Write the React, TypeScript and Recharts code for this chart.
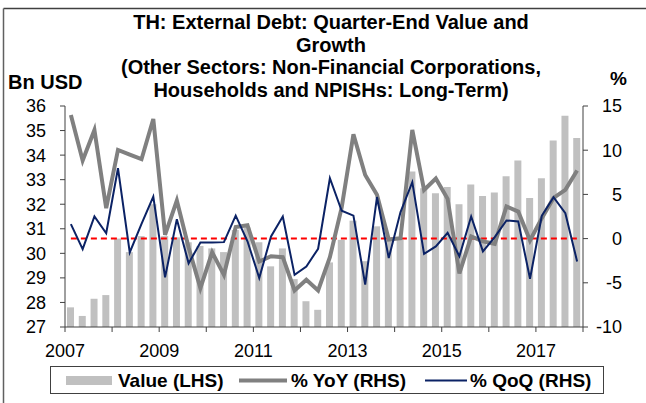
import React from 'react';
import { ComposedChart, Bar, Line, XAxis, YAxis, ReferenceLine } from 'recharts';

// Quarterly, 2007Q1 .. 2017Q4
const quarterIndex = [
  0, 1, 2, 3, 4, 5, 6, 7, 8, 9, 10, 11, 12, 13, 14, 15, 16, 17, 18, 19, 20, 21,
  22, 23, 24, 25, 26, 27, 28, 29, 30, 31, 32, 33, 34, 35, 36, 37, 38, 39, 40, 41, 42, 43,
];

// Value (LHS), Bn USD
const valueLHS = [
  27.8, 27.45, 28.15, 28.3, 30.6, 30.05, 30.7, 32.0, 30.7, 30.65, 30.45, 30.3,
  30.2, 30.05, 30.95, 31.05, 30.45, 29.47, 30.2, 28.95, 28.05, 27.7, 29.63, 30.55,
  31.33, 29.68, 31.1, 30.55, 30.55, 33.33, 32.65, 32.45, 32.7, 32.0, 32.8, 32.33,
  32.48, 33.14, 33.78, 32.25, 33.06, 34.6, 35.6, 34.7,
];

// % YoY (RHS)
const yoyRHS = [
  13.98, 8.83, 12.29, 3.44, 10.03, 9.5, 8.98, 13.53, 0.43, 4.3, -1.0, -5.6,
  -1.55, -4.1, 1.3, 1.5, -2.6, -2.0, -2.1, -5.86, -4.65, -5.86, -2.1, 3.5,
  11.8, 7.2, 4.95, -0.1, 0.05, 12.3, 5.5, 6.8, 4.5, -3.95, 0.24, -0.32,
  -0.59, 3.63, 3.06, -0.21, 2.31, 4.6, 5.51, 7.7,
];

// % QoQ (RHS)
const qoqRHS = [
  1.63, -1.19, 2.5, 0.6, 7.96, -1.57, 1.67, 4.76, -4.39, 2.2, -2.8, -0.44,
  -0.44, -0.4, 2.6, -0.3, -4.45, 0.24, 2.5, -4.1, -3.15, -1.15, 6.83, 3.15,
  2.6, -5.2, 4.7, -2.2, 3.0, 6.38, -1.72, -0.89, 0.65, -2.0, 2.5, -1.45,
  0.17, 2.05, 1.93, -4.54, 2.58, 4.68, 2.88, -2.58,
];

const leftTicks = [27, 28, 29, 30, 31, 32, 33, 34, 35, 36];
const rightTicks = [-10, -5, 0, 5, 10, 15];
const yearTicks = [0, 4, 8, 12, 16, 20, 24, 28, 32, 36, 40, 44];
const yearLabels = ['2007', '', '2009', '', '2011', '', '2013', '', '2015', '', '2017', ''];

const titleLines = [
  'TH: External Debt: Quarter-End Value and',
  'Growth',
  '(Other Sectors: Non-Financial Corporations,',
  'Households and NPISHs: Long-Term)',
];

const data = quarterIndex.map((q, i) => ({
  x: q + 0.5,
  value: valueLHS[i],
  yoy: yoyRHS[i],
  qoq: qoqRHS[i],
}));

const FONT = '"Liberation Sans", Arial, sans-serif';
const W = 646;
const H = 403;
const TICK_FS = 18;

const RightTick = (props: any) => {
  const { x, y, payload } = props;
  return (
    <text x={x} y={y} dy="0.355em" textAnchor="end" fontFamily={FONT} fontSize={TICK_FS} fill="#000">
      {payload.value}
    </text>
  );
};

export default function App() {
  const first = data[0].x;
  const last = data[data.length - 1].x;
  return (
    <div style={{ position: 'absolute', left: 0, top: 0, width: W, height: H, background: '#fff', fontFamily: FONT }}>
      <ComposedChart
        width={W}
        height={H}
        data={data}
        margin={{ top: 106, right: 13, bottom: 26, left: 5 }}
      >
        <XAxis
          dataKey="x"
          type="number"
          domain={[0, 44]}
          ticks={yearTicks}
          tickFormatter={(v: number) => yearLabels[yearTicks.indexOf(v)] ?? ''}
          interval={0}
          height={50}
          stroke="#404040"
          tickSize={5}
          tick={{ fill: '#000', fontSize: TICK_FS, fontFamily: FONT }}
          tickMargin={12}
          xAxisId={0}
        />
        <YAxis
          yAxisId="left"
          orientation="left"
          domain={[27, 36]}
          ticks={leftTicks}
          interval={0}
          width={60}
          stroke="#404040"
          tickSize={5}
          tickMargin={14}
          tick={{ fill: '#000', fontSize: TICK_FS, fontFamily: FONT }}
          allowDataOverflow
        />
        <YAxis
          yAxisId="right"
          orientation="right"
          domain={[-10, 15]}
          ticks={rightTicks}
          interval={0}
          width={50}
          stroke="#404040"
          tickSize={5}
          tickMargin={34}
          tick={<RightTick />}
          allowDataOverflow
        />
        <Bar yAxisId="left" dataKey="value" fill="#c0c0c0" barSize={7} isAnimationActive={false} />
        <ReferenceLine
          yAxisId="right"
          segment={[{ x: first, y: 0 }, { x: last, y: 0 }]}
          stroke="#ff0000"
          strokeWidth={2}
          strokeDasharray="6 4"
        />
        <Line yAxisId="right" dataKey="yoy" stroke="#808080" strokeWidth={4} dot={false} isAnimationActive={false} />
        <Line yAxisId="right" dataKey="qoq" stroke="#0b2265" strokeWidth={2} dot={false} isAnimationActive={false} />
      </ComposedChart>

      <svg width={W} height={H} style={{ position: 'absolute', left: 0, top: 0, pointerEvents: 'none' }}>
        <line x1={3.5} y1={8.5} x2={W} y2={8.5} stroke="#404040" strokeWidth={1.5} />
        <line x1={3.5} y1={8.5} x2={3.5} y2={H} stroke="#606060" strokeWidth={1.5} />
        {titleLines.map((t, i) => (
          <text key={i} x={331} y={29 + i * 22.5} textAnchor="middle" fontFamily={FONT} fontWeight="bold" fontSize={20} fill="#000">
            {t}
          </text>
        ))}
        <text x={8} y={89} fontFamily={FONT} fontWeight="bold" fontSize={20} fill="#000">Bn USD</text>
        <text x={610} y={85} fontFamily={FONT} fontWeight="bold" fontSize={19} fill="#000">%</text>

        <rect x={50.5} y={366.5} width={553} height={27} fill="#fff" stroke="#404040" strokeWidth={1} />
        <rect x={66} y={376} width={46} height={9} fill="#c0c0c0" />
        <text x={118} y={387} fontFamily={FONT} fontWeight="bold" fontSize={19} fill="#000">Value (LHS)</text>
        <line x1={239} y1={380.5} x2={287} y2={380.5} stroke="#808080" strokeWidth={4} />
        <text x={291} y={387} fontFamily={FONT} fontWeight="bold" fontSize={19} fill="#000">% YoY (RHS)</text>
        <line x1={425} y1={380.5} x2={467} y2={380.5} stroke="#0b2265" strokeWidth={2} />
        <text x={470} y={387} fontFamily={FONT} fontWeight="bold" fontSize={19} fill="#000">% QoQ (RHS)</text>
      </svg>
    </div>
  );
}
